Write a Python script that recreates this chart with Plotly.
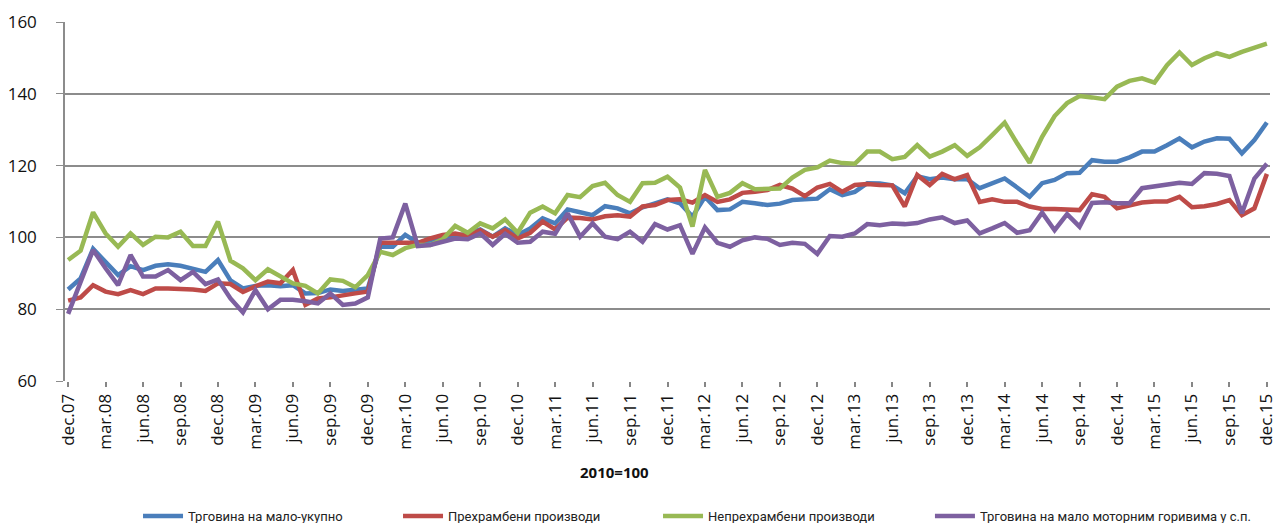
import plotly.graph_objects as go

months = ["jan", "feb", "mar", "apr", "maj", "jun", "jul", "avg", "sep", "okt", "nov", "dec"]
periods = ["dec.07"] + [f"{m}.{y:02d}" for y in range(8, 16) for m in months]

total = [85.5, 88.6, 96.8, 93.2, 89.5, 92.0, 90.9, 92.1, 92.5, 92.1, 91.4, 90.4, 93.7,
         88.0, 85.8, 86.5, 86.7, 86.4, 86.7, 84.4, 84.5, 85.5, 85.1, 85.3, 85.8,
         97.4, 97.4, 100.7, 98.5, 99.1, 99.5, 100.4, 101.0, 102.2, 100.2, 102.5, 100.7,
         102.5, 105.3, 103.9, 107.8, 107.0, 106.2, 108.7, 108.1, 106.7, 108.4, 109.5, 110.6,
         109.5, 105.8, 111.3, 107.6, 107.8, 109.9, 109.5, 109.0, 109.4, 110.4, 110.6, 110.8,
         113.4, 111.8, 112.7, 115.1, 115.0, 114.5, 112.3, 117.0, 116.2, 116.7, 116.2, 116.2,
         113.7, 115.2, 116.4, 113.9, 111.3, 115.1, 116.0, 117.9, 118.0, 121.5, 121.1, 121.1,
         122.3, 123.9, 123.9, 125.7, 127.6, 125.1, 126.7, 127.6, 127.5, 123.4, 127.1, 132.0]

food = [82.4, 83.3, 86.7, 84.9, 84.2, 85.3, 84.2, 85.8, 85.8, 85.8, 85.5, 85.1, 87.2,
        87.0, 84.8, 86.4, 87.7, 87.2, 90.9, 81.2, 83.0, 83.3, 84.0, 84.4, 84.9,
        98.5, 98.5, 98.6, 98.5, 99.7, 100.7, 101.1, 100.4, 102.0, 100.2, 102.0, 99.7,
        101.3, 104.4, 102.2, 105.5, 105.4, 105.0, 105.9, 106.2, 105.8, 108.6, 109.0, 110.4,
        110.6, 109.7, 111.8, 109.9, 110.6, 112.4, 112.7, 113.2, 114.6, 113.6, 111.5, 113.9,
        114.9, 112.7, 114.6, 114.9, 114.6, 114.5, 108.6, 117.4, 114.6, 117.7, 116.2, 117.4,
        109.9, 110.6, 109.9, 109.9, 108.6, 107.9, 107.9, 107.8, 107.6, 112.0, 111.3, 108.1,
        109.0, 109.7, 110.0, 110.0, 111.3, 108.4, 108.7, 109.3, 110.4, 106.2, 108.1, 117.7]

nonfood = [93.7, 96.3, 107.0, 101.1, 97.4, 101.1, 97.9, 100.2, 100.0, 101.6, 97.6, 97.6, 104.4,
           93.5, 91.4, 88.1, 91.1, 89.1, 87.2, 86.5, 84.4, 88.3, 87.9, 86.1, 89.5,
           96.0, 95.1, 97.0, 97.9, 97.9, 99.5, 103.2, 101.3, 103.9, 102.5, 105.0, 101.3,
           106.9, 108.6, 106.7, 111.8, 111.2, 114.3, 115.2, 111.8, 109.9, 115.1, 115.2, 116.9,
           113.9, 103.0, 118.8, 111.3, 112.4, 115.1, 113.4, 113.6, 113.6, 116.7, 118.8, 119.5,
           121.4, 120.7, 120.5, 123.9, 123.9, 121.8, 122.4, 125.7, 122.5, 123.9, 125.7, 122.7,
           125.1, 128.5, 132.0, 126.2, 120.8, 128.0, 133.8, 137.4, 139.4, 139.0, 138.5, 142.0,
           143.6, 144.3, 143.1, 148.0, 151.5, 148.0, 149.9, 151.3, 150.3, 151.7, 152.9, 154.0]

fuel = [78.7, 87.7, 96.5, 91.4, 86.7, 95.1, 89.1, 89.1, 90.9, 88.1, 90.4, 87.0, 88.3,
        83.0, 79.1, 85.3, 80.0, 82.6, 82.6, 82.2, 81.6, 84.4, 81.2, 81.6, 83.3,
        99.7, 100.0, 109.4, 97.6, 97.9, 98.8, 99.7, 99.5, 101.1, 97.9, 101.0, 98.5,
        98.8, 101.6, 101.0, 106.7, 100.2, 103.9, 100.2, 99.5, 101.6, 98.8, 103.7, 102.2,
        103.4, 95.4, 102.8, 98.5, 97.4, 99.2, 100.0, 99.6, 97.9, 98.5, 98.2, 95.4,
        100.4, 100.2, 101.1, 103.7, 103.4, 103.9, 103.7, 104.0, 105.0, 105.6, 104.0, 104.7,
        101.1, 102.5, 104.0, 101.3, 102.0, 106.9, 102.0, 106.5, 103.0, 109.6, 109.8, 109.5,
        109.5, 113.7, 114.3, 114.6, 115.2, 114.9, 117.9, 117.7, 117.1, 106.7, 116.4, 120.5]

series_names = ["Трговина на мало-укупно", "Прехрамбени производи",
                "Непрехрамбени производи", "Трговина на мало моторним горивима у с.п."]
series_values = [total, food, nonfood, fuel]
series_colors = ["#4A7EBB", "#BE4B48", "#98B954", "#7D60A0"]
series_legends = ["legend", "legend", "legend", "legend2"]

tick_labels = periods[::3]
y_ticks = [60, 80, 100, 120, 140, 160]

fig = go.Figure()
for name, vals, col, lg in zip(series_names, series_values, series_colors, series_legends):
    fig.add_trace(go.Scatter(x=periods, y=vals, mode="lines", name=name, legend=lg,
                             line=dict(color=col, width=4.5), line_shape="linear"))

font_family = "Open Sans, DejaVu Sans, sans-serif"
legend_font = dict(size=13, color="#222222", family="Liberation Sans Narrow, Roboto, sans-serif")
fig.update_layout(
    width=1276, height=515,
    margin=dict(l=57, r=14, t=14, b=142, autoexpand=False),
    plot_bgcolor="white", paper_bgcolor="white",
    font=dict(family=font_family, color="#222222"),
    showlegend=True,
    legend=dict(orientation="h", x=0.0606, xanchor="left", y=-0.376, yanchor="middle",
                font=legend_font, entrywidth=205, entrywidthmode="pixels",
                itemwidth=40, tracegroupgap=0, bgcolor="rgba(0,0,0,0)"),
    legend2=dict(orientation="h", x=0.7178, xanchor="left", y=-0.376, yanchor="middle",
                 font=legend_font, itemwidth=40, tracegroupgap=0, bgcolor="rgba(0,0,0,0)"),
    annotations=[dict(text="<b>2010=100</b>", x=0.456, y=-0.287, xref="paper", yref="paper",
                      showarrow=False, font=dict(size=15, color="#111111"))],
)
fig.update_xaxes(type="category", categoryorder="array", categoryarray=periods,
                 range=[-0.25, 96.25], tickmode="array", tickvals=tick_labels, ticktext=tick_labels,
                 tickangle=-90, tickfont=dict(size=17, color="#111111"),
                 showgrid=False, showline=False, zeroline=False, automargin=False,
                 ticks="outside", ticklen=5, tickcolor="#868686", tickwidth=1.5)
fig.update_yaxes(range=[60, 160], tickvals=y_ticks, tickfont=dict(size=17, color="#111111"),
                 showgrid=True, gridcolor="#8C8C8C", gridwidth=1.5, zeroline=False,
                 showline=True, linecolor="#8C8C8C", linewidth=1.5, automargin=False,
                 ticks="outside", ticklen=7, tickcolor="#8C8C8C", ticklabelstandoff=16)

fig.write_html("out.html")
